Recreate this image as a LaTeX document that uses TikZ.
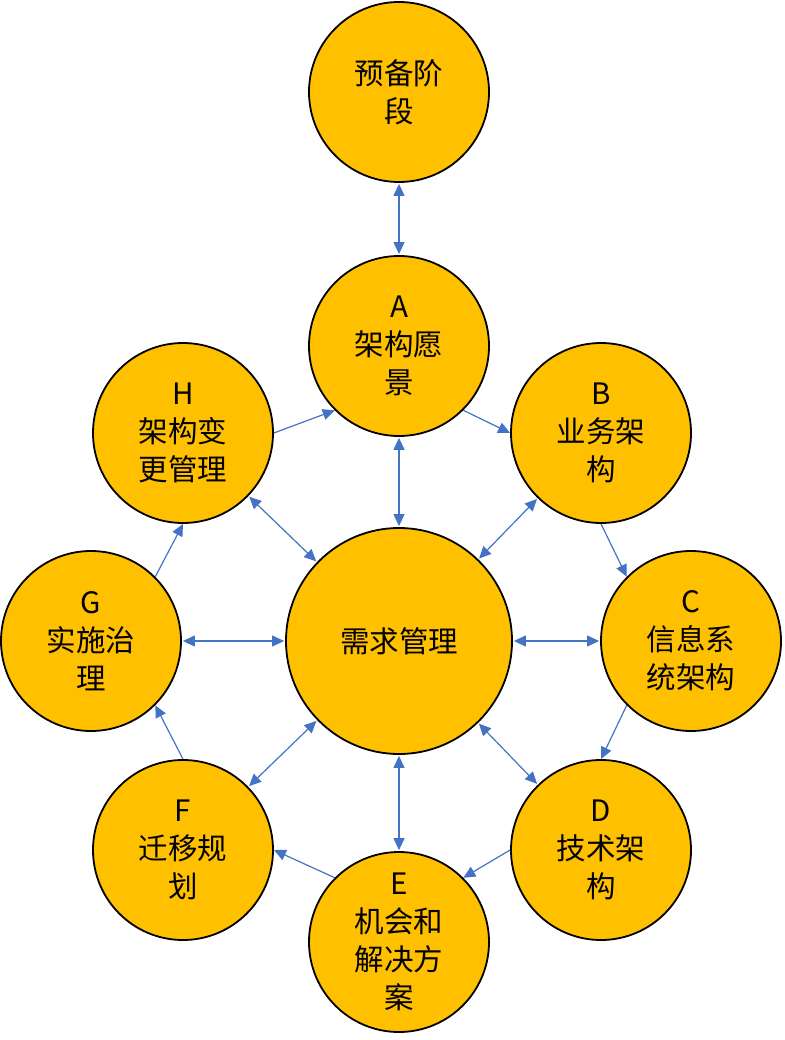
\documentclass[tikz,border=0pt]{standalone}
\usepackage{fontspec}
\newfontfamily\cjk{Noto Sans CJK SC}
\usetikzlibrary{arrows.meta}
\definecolor{fillc}{HTML}{FFC000}
\definecolor{arrc}{HTML}{4472C4}
\tikzset{
  phase/.style={circle, draw=black, line width=1.8pt, fill=fillc, minimum size=180pt, inner sep=0pt, align=center, font=\cjk\fontsize{29.5}{38}\selectfont},
  hub/.style={phase, minimum size=226pt},
  link/.style={draw=arrc, line width=1.2pt, -{Triangle[length=12pt,width=11pt]}},
  dlink/.style={draw=arrc, line width=1.2pt, {Triangle[length=12pt,width=11pt]}-{Triangle[length=12pt,width=11pt]}, shorten >=1pt, shorten <=1pt}
}
\begin{document}
\begin{tikzpicture}[x=1pt,y=-1pt]
\useasboundingbox (0,0) rectangle (784,1040);
\node[phase] (P) at (399,92) {预备阶\\段};
\node[phase] (A) at (399,346) {A\\架构愿\\景};
\node[phase] (B) at (601,433) {B\\业务架\\构};
\node[phase] (C) at (691,641) {C\\信息系\\统架构};
\node[phase] (D) at (601,850) {D\\技术架\\构};
\node[phase] (E) at (399,942) {E\\机会和\\解决方\\案};
\node[phase] (F) at (183,850) {F\\迁移规\\划};
\node[phase] (G) at (91,641) {G\\实施治\\理};
\node[phase] (H) at (183,433) {H\\架构变\\更管理};
\node[hub] (R) at (399,641) {需求管理};
% double arrows
\draw[dlink] (P) -- (A);
\draw[dlink] (A) -- (R);
\draw[dlink] (B) -- (R);
\draw[dlink] (C) -- (R);
\draw[dlink] (D) -- (R);
\draw[dlink] (E) -- (R);
\draw[dlink] (F) -- (R);
\draw[dlink] (G) -- (R);
\draw[dlink] (H) -- (R);
% cycle
\draw[link] (A.-45) -- (B.180);
\draw[link] (B.270) -- (C.135);
\draw[link] (C.225) -- (D.90);
\draw[link] (D.180) -- (E.45);
\draw[link] (E.135) -- (F.0);
\draw[link] (F.90) -- (G.-45);
\draw[link] (G.45) -- (H.270);
\draw[link] (H.0) -- (A.225);
\end{tikzpicture}
\end{document}
